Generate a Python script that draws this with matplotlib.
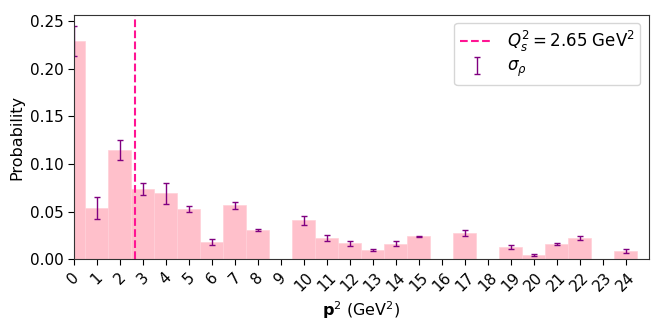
import numpy as np
import matplotlib
matplotlib.use("Agg")
import matplotlib.pyplot as plt

Q_S2 = 2.65

p2_bins = np.arange(25)
probs = [0.229, 0.0535, 0.1143, 0.0737, 0.0695, 0.0527, 0.0181, 0.0566, 0.031, 0.0,
         0.0409, 0.0223, 0.0168, 0.0101, 0.0164, 0.0241, 0.0, 0.0276, 0.0,
         0.0129, 0.0048, 0.016, 0.0223, 0.0, 0.0087]
sigma = [0.0156, 0.0115, 0.0105, 0.006, 0.011, 0.003, 0.0027, 0.0035, 0.0009, 0.0,
         0.005, 0.0028, 0.0025, 0.001, 0.0025, 0.0008, 0.0, 0.0028, 0.0,
         0.0025, 0.001, 0.0007, 0.0017, 0.0, 0.0026]

fig = plt.figure(figsize=(6.64, 3.32), dpi=100)
ax = fig.add_axes([0.111, 0.219, 0.866, 0.737])

ax.bar(p2_bins, probs, width=1.0, color="pink", edgecolor="#ffd0d8", linewidth=0.5)

ax.axvline(Q_S2, color="deeppink", linestyle="--", linewidth=1.5,
           label=rf"$Q_s^2 = {Q_S2}$ GeV$^2$")
# only draw error bars where there is data
mask = np.array(probs) > 0
ax.errorbar(p2_bins[mask], np.array(probs)[mask], yerr=np.array(sigma)[mask],
            fmt="none", ecolor="purple", capsize=2, elinewidth=1.0, label=r"$\sigma_\rho$")

ax.set_xlim(0, 25)
ax.set_xticks(p2_bins)
ax.set_xticklabels([str(i) for i in p2_bins], rotation=45)
ax.tick_params(labelsize=11, length=4)
for s in ax.spines.values():
    s.set_edgecolor("#333333")
ax.set_xlabel(r"$\mathbf{p}^2$ (GeV$^2$)", fontsize=11.5)
ax.set_ylabel("Probability", fontsize=11.5)

ax.legend(loc="upper right", fontsize=12, labelspacing=0.2, borderpad=0.35,
          handleheight=0.6)

fig.savefig("out.png")
